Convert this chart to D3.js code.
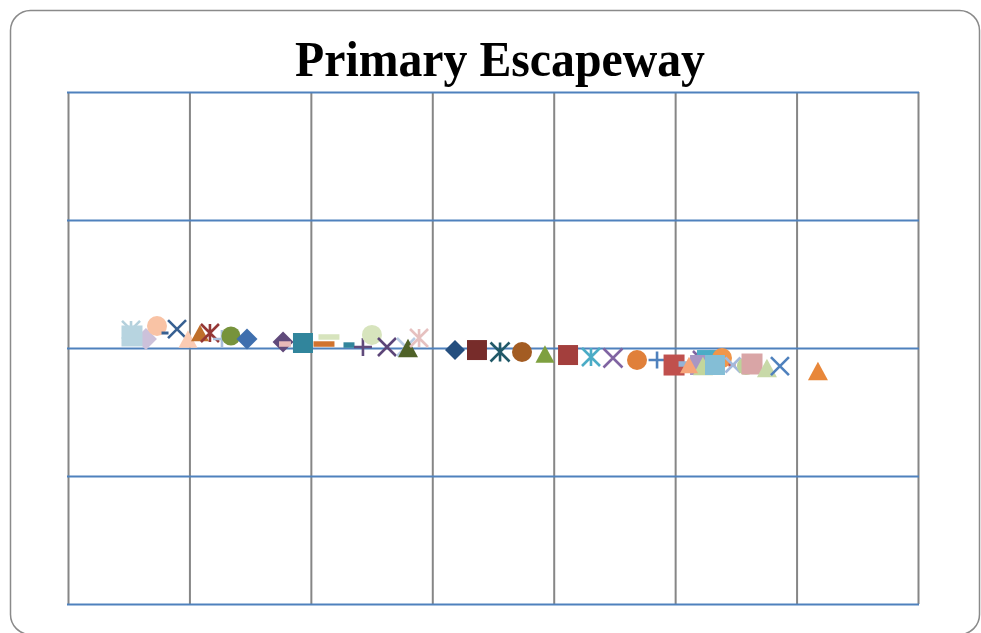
<!DOCTYPE html>
<html>
<head>
<meta charset="utf-8">
<script src="https://cdn.jsdelivr.net/npm/d3@7"></script>
<style>
  html, body { margin: 0; padding: 0; background: #fff; }
  svg { display: block; }
</style>
</head>
<body>
<svg id="chart" width="981" height="633"></svg>
<script>
// ---------- DATA ----------
const chartTitle = "Primary Escapeway";
const xTicks = [0, 1, 2, 3, 4, 5, 6, 7];
const yTicks = [-2, -1, 0, 1, 2];
const seriesNames = d3.range(1, 51).map(i => "Series " + i);
const xValues = [
  0.519, 0.642, 0.527, 0.733, 0.799, 0.898, 0.988, 1.087, 1.169, 1.268,
  1.342, 1.474, 1.771, 1.787, 1.935, 2.149, 2.108, 2.314, 2.429, 2.503,
  2.627, 2.783, 2.800, 2.891, 3.187, 3.368, 3.558, 3.739, 3.928, 4.118,
  4.307, 4.488, 4.686, 4.851, 5.221, 5.262, 5.386, 4.991, 5.065, 5.205,
  5.229, 5.114, 5.328, 5.468, 5.476, 5.583, 5.633, 5.756, 5.863, 6.176
];
const yValues = [
  0.141, 0.070, 0.094, 0.172, 0.117, 0.148, 0.070, 0.117, 0.117, 0.070,
  0.094, 0.070, 0.047, 0.031, 0.039, 0.086, 0.031, 0.023, 0.008, 0.102,
  0.008, 0.008, 0.000, 0.078, -0.016, -0.016, -0.031, -0.031, -0.047, -0.055,
  -0.070, -0.078, -0.094, -0.094, -0.094, -0.094, -0.078, -0.133, -0.125, -0.133,
  -0.141, -0.133, -0.133, -0.133, -0.133, -0.141, -0.125, -0.156, -0.141, -0.180
];

// ---------- STYLES (per series) ----------
const markerShapes = [
  "star", "diamond", "square", "circle", "dash", "x", "triangle", "triangle", "star", "plus",
  "circle", "diamond", "diamond", "dash", "square", "dash", "dash", "dash", "plus", "circle",
  "x", "x", "triangle", "star", "diamond", "square", "star", "circle", "triangle", "square",
  "star", "x", "circle", "plus", "x", "square", "circle", "square", "dash", "square",
  "triangle", "triangle", "square", "dash", "x", "circle", "square", "triangle", "x", "triangle"
];
const markerColors = [
  "#b4d0dc", "#ccc1da", "#b7d4e0", "#f9c3a5", "#376092", "#376092", "#fbcbb3", "#bf6f2b", "#953735", "#a9bfdc",
  "#77933c", "#3f6fae", "#604a7b", "#e6b9b8", "#31859c", "#d7e4bd", "#d0732f", "#31859c", "#604a7b", "#d7e4bd",
  "#5c4578", "#b9cde5", "#4f6228", "#e6c1c0", "#254f7f", "#772c2a", "#215968", "#a35c22", "#7ea03f", "#a33f3d",
  "#4bacc6", "#8064a2", "#e0803a", "#4f81bd", "#8064a2", "#4bacc6", "#f0964a", "#c0504d", "#95b3d7", "#a896c4",
  "#c3d69b", "#f6a57a", "#84bed6", "#c0504d", "#a3b9dc", "#bcd39a", "#d9a5a6", "#c8d9a8", "#4f81bd", "#e8873a"
];
const markerSizes = [
  18, 22, 21, 20, 7, 18, 19, 18, 18, 18,
  19, 21, 21, 12, 20, 21, 21, 11, 18, 20,
  18, 18, 20, 18, 20, 20, 19, 20, 19, 20,
  18, 19, 20, 17, 18, 20, 20, 21, 9, 20,
  20, 18, 20, 7, 15, 18, 21, 20, 18, 20
];

// ---------- LAYOUT ----------
const plot = { left: 68, right: 918, top: 92, bottom: 604 };

const svg = d3.select("#chart");

// outer frame (extends slightly past the bottom edge, as in the reference)
svg.append("rect")
  .attr("x", 10.5).attr("y", 10.5)
  .attr("width", 969).attr("height", 624)
  .attr("rx", 20).attr("ry", 20)
  .attr("fill", "#fff")
  .attr("stroke", "#8a8a8a")
  .attr("stroke-width", 1.5);

// title
svg.append("text")
  .attr("x", 500).attr("y", 76)
  .attr("text-anchor", "middle")
  .attr("font-family", "'Liberation Serif', 'Times New Roman', serif")
  .attr("font-weight", "bold")
  .attr("font-size", 50)
  .attr("textLength", 410)
  .attr("lengthAdjust", "spacingAndGlyphs")
  .attr("fill", "#000")
  .text(chartTitle);

const x = d3.scaleLinear().domain([xTicks[0], xTicks[xTicks.length - 1]]).range([plot.left, plot.right]);
const y = d3.scaleLinear().domain([yTicks[0], yTicks[yTicks.length - 1]]).range([plot.bottom, plot.top]);

// vertical gridlines (grey)
const gx = svg.append("g")
  .attr("transform", `translate(0,${plot.bottom})`)
  .call(d3.axisBottom(x).tickValues(xTicks).tickSize(-(plot.bottom - plot.top)).tickFormat(""));
gx.select(".domain").remove();
gx.selectAll(".tick line").attr("stroke", "#868686").attr("stroke-width", 2);

// horizontal gridlines (blue)
const gy = svg.append("g")
  .attr("transform", `translate(${plot.left - 1},0)`)
  .call(d3.axisLeft(y).tickValues(yTicks).tickSize(-(plot.right - plot.left + 2)).tickFormat(""));
gy.select(".domain").remove();
gy.selectAll(".tick line").attr("stroke", "#4f81bd").attr("stroke-width", 2);

// ---------- MARKER SYMBOL TYPES (size = nominal width in px) ----------
const symbolTypes = {
  square: { draw(c, s) { const h = s / 2; c.rect(-h, -h, s, s); } },
  circle: { draw(c, s) { c.moveTo(s / 2, 0); c.arc(0, 0, s / 2, 0, 2 * Math.PI); } },
  triangle: { draw(c, s) { const h = s * 0.92; c.moveTo(0, -h / 2); c.lineTo(s / 2, h / 2); c.lineTo(-s / 2, h / 2); c.closePath(); } },
  diamond: { draw(c, s) { const h = s / 2; c.moveTo(0, -h); c.lineTo(h, 0); c.lineTo(0, h); c.lineTo(-h, 0); c.closePath(); } },
  dash: { draw(c, s) { const t = s < 9 ? 3 : 5.5; c.rect(-s / 2, -t / 2, s, t); } },
  x: { draw(c, s) { const h = s / 2; c.moveTo(-h, -h); c.lineTo(h, h); c.moveTo(h, -h); c.lineTo(-h, h); } },
  plus: { draw(c, s) { const h = s / 2; c.moveTo(-h, 0); c.lineTo(h, 0); c.moveTo(0, -h); c.lineTo(0, h); } },
  star: { draw(c, s) { const h = s / 2; c.moveTo(-h, -h); c.lineTo(h, h); c.moveTo(h, -h); c.lineTo(-h, h); c.moveTo(0, -h); c.lineTo(0, h); } }
};
const strokeShapes = new Set(["x", "plus", "star"]);

const points = seriesNames.map((name, i) => ({
  name, xv: xValues[i], yv: yValues[i],
  shape: markerShapes[i], color: markerColors[i], size: markerSizes[i]
}));

svg.append("g")
  .selectAll("path")
  .data(points)
  .join("path")
  .attr("transform", d => `translate(${x(d.xv)},${y(d.yv)})`)
  .attr("d", d => d3.symbol().type(symbolTypes[d.shape]).size(d.size)())
  .attr("fill", d => strokeShapes.has(d.shape) ? "none" : d.color)
  .attr("stroke", d => strokeShapes.has(d.shape) ? d.color : "none")
  .attr("stroke-width", d => strokeShapes.has(d.shape) ? 2.6 : 0)
  .attr("stroke-linecap", "butt");
</script>
</body>
</html>
